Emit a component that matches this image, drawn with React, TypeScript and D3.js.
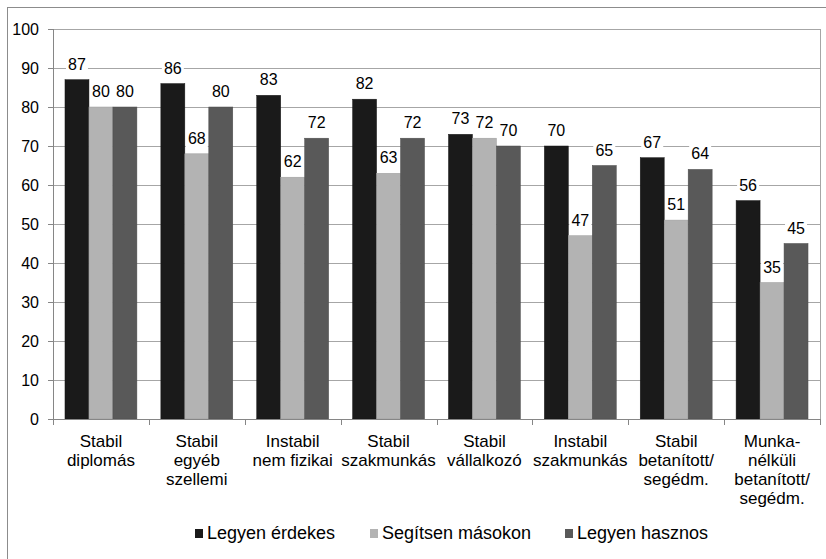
import React from "react";
import * as d3 from "d3";

const categories: string[][] = [
  ["Stabil", "diplomás"],
  ["Stabil", "egyéb", "szellemi"],
  ["Instabil", "nem fizikai"],
  ["Stabil", "szakmunkás"],
  ["Stabil", "vállalkozó"],
  ["Instabil", "szakmunkás"],
  ["Stabil", "betanított/", "segédm."],
  ["Munka-", "nélküli", "betanított/", "segédm."],
];

const seriesNames = ["Legyen érdekes", "Segítsen másokon", "Legyen hasznos"];
const seriesColors = ["#1a1a1a", "#b3b3b3", "#595959"];

const erdekes = [87, 86, 83, 82, 73, 70, 67, 56];
const segitsen = [80, 68, 62, 63, 72, 47, 51, 35];
const hasznos = [80, 80, 72, 72, 70, 65, 64, 45];
const seriesValues = [erdekes, segitsen, hasznos];

const yTicks = [0, 10, 20, 30, 40, 50, 60, 70, 80, 90, 100];

const W = 826;
const H = 559;
const plot = { left: 53, right: 820, top: 29, bottom: 419 };
const FONT = "'Liberation Sans', Arial, sans-serif";

export default function App() {
  const keys = categories.map((_, i) => String(i));
  const x = d3.scaleBand<string>().domain(keys).range([plot.left, plot.right]).padding(0);
  const inner = d3
    .scaleBand<number>()
    .domain([0, 1, 2])
    .range([0, x.bandwidth()])
    .paddingInner(0)
    .paddingOuter(0.5);
  const y = d3.scaleLinear().domain([0, 100]).range([plot.bottom, plot.top]);

  const legendX = [195, 370, 565];

  return (
    <svg
      width={W}
      height={H}
      style={{ position: "absolute", left: 0, top: 0, background: "#fff" }}
      fontFamily={FONT}
    >
      <rect x={0} y={0} width={W} height={H} fill="#fff" />
      {/* chart frame */}
      <rect x={7.5} y={7.5} width={830} height={570} fill="none" stroke="#8c8c8c" strokeWidth={1} />

      {/* gridlines */}
      {yTicks.map((t) => (
        <line
          key={"g" + t}
          x1={plot.left}
          x2={plot.right}
          y1={Math.round(y(t)) + 0.5}
          y2={Math.round(y(t)) + 0.5}
          stroke="#a6a6a6"
          strokeWidth={1}
        />
      ))}
      <line x1={plot.right + 0.5} x2={plot.right + 0.5} y1={plot.top} y2={plot.bottom} stroke="#a6a6a6" />

      {/* bars */}
      {seriesValues.map((vals, s) =>
        vals.map((v, i) => {
          const bx = (x(String(i)) ?? 0) + (inner(s) ?? 0);
          return (
            <rect
              key={`b${s}-${i}`}
              x={bx}
              y={y(v)}
              width={inner.bandwidth()}
              height={y(0) - y(v)}
              fill={seriesColors[s]}
              stroke={d3.color(seriesColors[s])!.darker(0.4).toString()}
              strokeWidth={0.5}
            />
          );
        })
      )}

      {/* axes */}
      <line x1={plot.left + 0.5} x2={plot.left + 0.5} y1={plot.top} y2={plot.bottom + 0.5} stroke="#868686" />
      <line x1={plot.left} x2={plot.right + 1} y1={plot.bottom + 0.5} y2={plot.bottom + 0.5} stroke="#868686" />
      {yTicks.map((t) => (
        <g key={"yt" + t}>
          <line
            x1={plot.left - 5}
            x2={plot.left}
            y1={Math.round(y(t)) + 0.5}
            y2={Math.round(y(t)) + 0.5}
            stroke="#868686"
          />
          <text x={39} y={y(t) + 5.5} textAnchor="end" fontSize={16} fill="#000">
            {t}
          </text>
        </g>
      ))}
      {keys.concat(["end"]).map((k, i) => {
        const xx = i < keys.length ? x(k)! : plot.right;
        return (
          <line
            key={"xt" + i}
            x1={Math.round(xx) + 0.5}
            x2={Math.round(xx) + 0.5}
            y1={plot.bottom}
            y2={plot.bottom + 6}
            stroke="#868686"
          />
        );
      })}

      {/* category labels */}
      {categories.map((lines, i) => (
        <text
          key={"c" + i}
          x={(x(String(i)) ?? 0) + x.bandwidth() / 2}
          y={447}
          textAnchor="middle"
          fontSize={17}
          fill="#000"
        >
          {lines.map((l, j) => (
            <tspan key={j} x={(x(String(i)) ?? 0) + x.bandwidth() / 2} dy={j === 0 ? 0 : 19}>
              {l}
            </tspan>
          ))}
        </text>
      ))}

      {/* value labels */}
      {seriesValues.map((vals, s) =>
        vals.map((v, i) => {
          const cx = (x(String(i)) ?? 0) + (inner(s) ?? 0) + inner.bandwidth() / 2;
          const base = y(v) - 10;
          return (
            <g key={`l${s}-${i}`}>
              <rect x={cx - 11} y={base - 15} width={22} height={19} fill="#fff" />
              <text x={cx} y={base} textAnchor="middle" fontSize={16} fill="#000">
                {v}
              </text>
            </g>
          );
        })
      )}

      {/* legend */}
      {seriesNames.map((n, s) => (
        <g key={"lg" + s}>
          <rect x={legendX[s]} y={529} width={8} height={9} fill={seriesColors[s]} />
          <text x={legendX[s] + 12} y={539} fontSize={18} fill="#000">
            {n}
          </text>
        </g>
      ))}
    </svg>
  );
}
